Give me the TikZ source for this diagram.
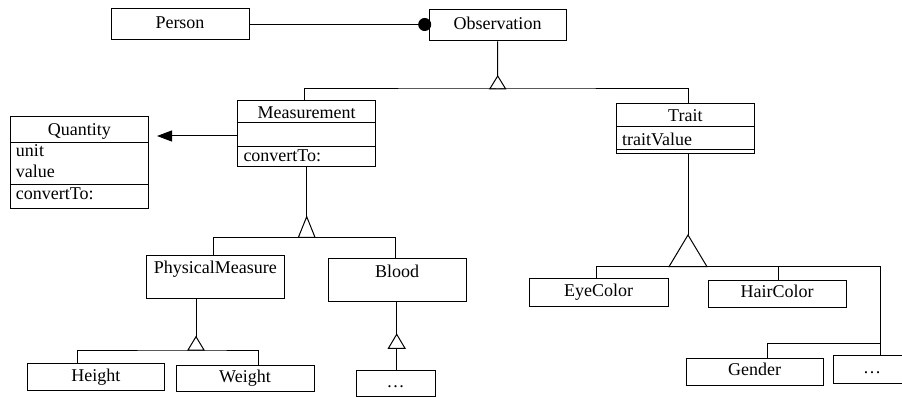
\documentclass[tikz,border=0pt]{standalone}
\usepackage{fontspec}
\setmainfont{Liberation Serif}
\usetikzlibrary{arrows.meta}

\begin{document}
\begin{tikzpicture}[x=1pt, y=-1pt, line width=1pt,
  font=\fontsize{18}{21}\selectfont,
  box/.style={draw, inner sep=0pt, text height=12pt, text depth=4pt},
  title/.style={inner sep=0pt, anchor=base},
  attr/.style={inner sep=0pt, anchor=base west},
  pics/gentri/.style 2 args={code={\draw (-#1,0) -- (0,-#2) -- (#1,0) -- cycle;}}]

\useasboundingbox (0,0) rectangle (902,398);
\clip (0,0) rectangle (902,398);

\node[box, minimum width=138pt, minimum height=31pt] (person) at (180,24.5) {Person};
\node[box, minimum width=137pt, minimum height=31pt] (obs) at (497.5,25.5) {Observation};
\draw [-{Circle[length=13pt]}, shorten >=-2.7pt] (person.east) -- (person.east -| obs.west);

% Measurement and Quantity
\node[box, minimum width=138pt, minimum height=66pt] (meas) at (306.7,133.7) {};
\draw ([yshift=-22pt]meas.north west) -- ([yshift=-22pt]meas.north east);
\draw ([yshift=-46pt]meas.north west) -- ([yshift=-46pt]meas.north east);
\node[title] (meastitle) at (306.7,118.7) {Measurement};
\node[attr] (measop) at (243,161.7) {convertTo:};

\node[box, minimum width=137.3pt, minimum height=92pt] (quant) at (79.35,163) {};
\draw ([yshift=-25.7pt]quant.north west) -- ([yshift=-25.7pt]quant.north east);
\draw ([yshift=-67.7pt]quant.north west) -- ([yshift=-67.7pt]quant.north east);
\node[title] (quanttitle) at (79.35,136) {Quantity};
\node[attr] (quantunit) at (15.5,157) {unit};
\node[attr] (quantvalue) at (15.5,177.5) {value};
\node[attr] (quantop) at (15.5,200) {convertTo:};

\coordinate (qtip) at (157,136);
\draw [-{Triangle[length=15pt,width=11pt]}] (meas.west |- qtip) -- (qtip);

% Trait
\node[box, minimum width=137.3pt, minimum height=49.7pt] (trait) at (685.35,128.85) {};
\draw ([yshift=-22.7pt]trait.north west) -- ([yshift=-22.7pt]trait.north east);
\draw ([yshift=-45.7pt]trait.north west) -- ([yshift=-45.7pt]trait.north east);
\node[title] (traittitle) at (685.35,122) {Trait};
\node[attr] (traitattr) at (621.7,145.3) {traitValue};

\coordinate (obsbar) at (497.7,89);
\pic at (obsbar) {gentri={8}{13}};
\draw (obs.south) -- ([yshift=13pt]obsbar);
\draw ([xshift=-2.7pt]meas.north) |- (obsbar) -| ([xshift=2.65pt]trait.north);

% subclasses of Measurement
\node[box, minimum width=137.3pt, minimum height=43.3pt] (phys) at (215.35,276.65) {};
\node[title] (physname) at (215.35,273.7) {PhysicalMeasure};
\node[box, minimum width=138.3pt, minimum height=43.7pt] (blood) at (397.15,279.85) {};
\node[title] (bloodname) at (397.15,277) {Blood};

\coordinate (measbar) at (306.7,237.3);
\pic at (measbar) {gentri={8.3}{20.6}};
\draw (meas.south) -- ([yshift=20.6pt]measbar);
\draw ([xshift=-2.35pt]phys.north) |- (measbar) -| ([xshift=-2.15pt]blood.north);

\node[box, minimum width=137pt, minimum height=27.4pt] (height) at (95.8,377) {Height};
\node[box, minimum width=138pt, minimum height=26.7pt] (weight) at (245,378.35) {Weight};
\node[box, minimum width=79pt, minimum height=26.7pt] (dotsa) at (395.5,383.35) {\ldots};

\coordinate (physbar) at (196,350);
\pic at (physbar) {gentri={8}{13.3}};
\draw (physbar |- phys.south) -- ([yshift=13.3pt]physbar);
\draw ([xshift=-18.1pt]height.north) |- (physbar) -| ([xshift=13.3pt]weight.north);

\coordinate (bloodbar) at (396.7,348.3);
\pic at (bloodbar) {gentri={8.3}{14}};
\draw (bloodbar |- blood.south) -- ([yshift=14pt]bloodbar);
\draw (bloodbar) -- (bloodbar |- dotsa.north);

% subclasses of Trait
\node[box, minimum width=139pt, minimum height=28pt] (eye) at (598.5,292) {EyeColor};
\node[box, minimum width=138pt, minimum height=27pt] (hair) at (777,293.5) {HairColor};
\node[box, minimum width=137pt, minimum height=27pt] (gender) at (754.5,371.5) {Gender};
\node[box, minimum width=78pt, minimum height=27.6pt] (dotsb) at (872,369.5) {\ldots};

\coordinate (traitbar) at (688,266.7);
\pic at (traitbar) {gentri={19}{31.7}};
\draw (traitbar |- trait.south) -- ([yshift=31.7pt]traitbar);
\draw ([xshift=-2.5pt]eye.north) |- (traitbar) -| ([xshift=8pt]dotsb.north);
\draw ([xshift=1pt]hair.north) |- (traitbar);

\coordinate (otherbar) at (880,343);
\draw ([xshift=12.5pt]gender.north) |- (otherbar);
\end{tikzpicture}
\end{document}
